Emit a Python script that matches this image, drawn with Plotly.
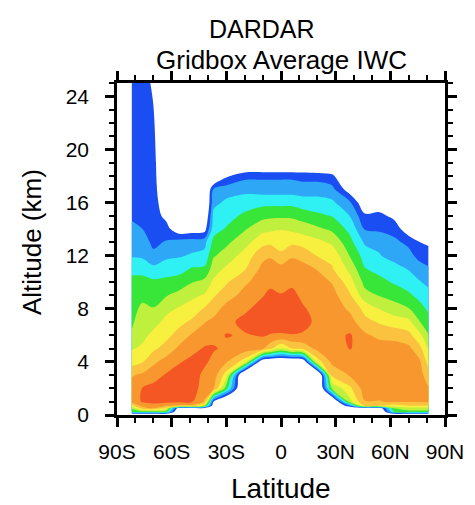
import numpy as np
import plotly.graph_objects as go

# Zonal-mean cross-section of gridbox-average ice water content.
# Each profile below holds the shaded IWC class at the altitudes listed
# (bottom to top). Class 1..9 = lowest..highest shaded IWC; <= 0 means no ice.

latitude = [-82, -76, -70, -63, -56, -49, -42, -37, -30, -20, -10, -6,
            0, 6, 12, 20, 28, 38, 46, 54, 62, 70, 76, 81]
altitude = [0, 0.25, 0.5, 0.7, 1, 2, 3, 4, 5, 6, 7, 8, 9, 10, 11, 12,
            13, 14, 15, 16, 17, 18, 19, 25]

iwc_82s = [-1.5, 4.0, 4.6, 6.2, 7.9, 7.9, 7.4, 6.1, 5.4, 4.6, 4.35, 4.1, 3.95, 3.8, 3.2, 2.4, 2.1, 1.8, 1.3, 1.0, 1.0, 1.0, 1.0, 1.0]
iwc_76s = [-1.5, 4.0, 7.0, 7.8, 8.6, 8.55, 7.7, 6.45, 5.7, 5.2, 5.0, 4.75, 4.2, 3.8, 3.2, 2.3, 2.0, 1.5, 1.1, 1.0, 1.0, 1.0, 1.0, 1.0]
iwc_70s = [-1.5, 4.0, 7.5, 8.1, 8.8, 8.8, 8.1, 7.3, 6.3, 5.8, 5.1, 4.55, 4.1, 3.7, 2.8, 1.75, 1.25, 1.0, 1.0, 1.0, 1.0, 1.0, 1.0, 0.3]
iwc_63s = [-1.5, 4.0, 6.0, 7.6, 8.8, 9.0, 8.6, 7.9, 6.9, 6.2, 5.8, 5.2, 4.45, 3.8, 3.0, 2.3, 1.6, 0.9, 0.2, -0.3, -0.8, -1.2, -1.5, -1.5]
iwc_56s = [-1.5, -1.5, -0.5, 7.2, 8.7, 9.1, 9.0, 8.4, 7.7, 6.9, 6.2, 5.6, 4.8, 4.0, 3.1, 2.4, 2.0, -0.3, -1.0, -1.5, -1.5, -1.5, -1.5, -1.5]
iwc_49s = [-1.5, -1.5, -0.5, 7.2, 8.6, 9.0, 9.1, 8.8, 8.15, 7.6, 6.7, 5.9, 5.3, 4.45, 3.6, 2.6, 2.1, -0.2, -1.0, -1.5, -1.5, -1.5, -1.5, -1.5]
iwc_42s = [-1.5, -1.5, -0.5, 5.0, 7.4, 8.0, 8.2, 8.7, 8.6, 8.0, 7.45, 6.6, 5.6, 4.8, 3.7, 2.8, 2.2, 0.0, -1.0, -1.5, -1.5, -1.5, -1.5, -1.5]
iwc_37s = [-1.5, -1.5, -1.0, -0.5, 0.5, 7.6, 8.0, 8.2, 8.6, 8.2, 7.8, 7.0, 6.4, 5.7, 5.0, 4.4, 3.8, 3.1, 2.8, 2.2, 1.6, -1.5, -1.5, -1.5]
iwc_30s = [-2.0, -2.0, -2.0, -2.0, -2.0, 3.9, 6.0, 7.6, 8.3, 8.55, 8.2, 7.9, 7.0, 6.4, 5.7, 4.9, 4.3, 3.6, 3.1, 2.7, 2.0, 0.3, -1.5, -1.5]
iwc_20s = [-2.0, -2.0, -2.0, -2.0, -2.0, -2.0, -2.0, 6.0, 8.0, 8.4, 8.8, 8.3, 7.9, 7.3, 6.4, 5.9, 5.1, 4.4, 3.7, 3.0, 2.2, 1.2, -1.5, -1.5]
iwc_10s = [-2.0, -2.0, -2.0, -2.0, -2.0, -2.0, -2.0, -1.0, 7.6, 8.6, 9.0, 8.9, 8.45, 8.1, 7.8, 7.2, 6.2, 5.2, 4.2, 3.2, 2.0, 1.3, -1.5, -1.5]
iwc_06s = [-2.0, -2.0, -2.0, -2.0, -2.0, -2.0, -2.0, -1.5, 6.8, 8.45, 9.0, 9.0, 8.7, 8.3, 7.9, 7.4, 6.3, 5.3, 4.3, 3.2, 2.0, 1.3, -1.5, -1.5]
iwc_eq = [-2.0, -2.0, -2.0, -2.0, -2.0, -2.0, -2.0, -1.5, 5.45, 8.4, 9.0, 9.0, 8.55, 8.2, 7.9, 6.7, 6.1, 5.45, 4.3, 3.2, 2.0, 1.3, -1.5, -1.5]
iwc_06n = [-2.0, -2.0, -2.0, -2.0, -2.0, -2.0, -2.0, -1.5, 6.5, 8.45, 9.0, 9.0, 8.75, 8.3, 7.9, 7.4, 6.3, 5.3, 4.3, 3.2, 2.0, 1.3, -1.5, -1.5]
iwc_12n = [-2.0, -2.0, -2.0, -2.0, -2.0, -2.0, -2.0, -1.0, 6.8, 8.4, 8.8, 8.6, 8.3, 8.1, 7.8, 7.2, 6.1, 5.1, 4.0, 3.0, 1.9, 1.2, -1.5, -1.5]
iwc_20n = [-2.0, -2.0, -2.0, -2.0, -2.0, -2.0, -2.0, 6.0, 7.8, 8.2, 8.3, 8.2, 8.1, 7.9, 7.45, 6.45, 5.8, 4.7, 3.7, 2.9, 2.0, 1.1, -1.5, -1.5]
iwc_28n = [-2.0, -2.0, -2.0, -2.0, -2.0, 4.6, 6.8, 7.7, 8.0, 8.2, 8.2, 8.1, 7.9, 7.45, 6.6, 6.2, 5.3, 4.3, 3.45, 2.7, 1.8, 0.8, -1.5, -1.5]
iwc_38n = [-1.5, -1.5, -1.0, 1.5, 5.2, 6.3, 7.6, 8.0, 8.55, 8.6, 7.9, 7.3, 6.6, 5.9, 5.2, 4.4, 3.8, 3.2, 2.45, 1.6, -0.2, -1.5, -1.5, -1.5]
iwc_46n = [-1.5, -1.5, -0.5, 6.5, 7.45, 8.0, 8.2, 8.1, 8.0, 7.7, 6.8, 6.2, 4.9, 4.2, 3.55, 3.1, 2.35, 1.45, 0.7, -0.5, -1.5, -1.5, -1.5, -1.5]
iwc_54n = [-1.5, -1.5, -0.5, 6.5, 7.45, 8.0, 8.2, 8.2, 8.1, 7.2, 6.4, 5.45, 4.45, 3.8, 3.2, 2.55, 2.3, 1.3, 0.8, -0.3, -1.5, -1.5, -1.5, -1.5]
iwc_62n = [-1.5, 3.5, 4.5, 6.0, 7.6, 8.0, 8.1, 8.1, 7.9, 7.2, 6.0, 5.0, 4.1, 3.4, 2.8, 2.2, 1.7, 1.2, 0.2, -1.5, -1.5, -1.5, -1.5, -1.5]
iwc_70n = [-1.5, 4.2, 5.0, 6.5, 7.6, 7.9, 8.0, 8.0, 7.75, 6.8, 5.8, 4.55, 3.7, 3.0, 2.45, 1.8, 1.3, -0.3, -1.5, -1.5, -1.5, -1.5, -1.5, -1.5]
iwc_76n = [-1.5, 4.2, 5.0, 6.5, 7.6, 7.9, 8.0, 7.7, 6.8, 5.8, 4.55, 3.9, 3.2, 2.6, 1.9, 1.2, 0.55, -1.5, -1.5, -1.5, -1.5, -1.5, -1.5, -1.5]
iwc_81n = [-1.5, 4.2, 5.0, 6.5, 7.65, 7.55, 6.8, 6.1, 5.45, 4.55, 3.9, 3.3, 2.9, 2.2, 1.55, 1.3, 0.2, -1.5, -1.5, -1.5, -1.5, -1.5, -1.5, -1.5]

profiles = [iwc_82s, iwc_76s, iwc_70s, iwc_63s, iwc_56s, iwc_49s, iwc_42s,
            iwc_37s, iwc_30s, iwc_20s, iwc_10s, iwc_06s, iwc_eq, iwc_06n,
            iwc_12n, iwc_20n, iwc_28n, iwc_38n, iwc_46n, iwc_54n, iwc_62n,
            iwc_70n, iwc_76n, iwc_81n]

lat_ticks = [-90, -60, -30, 0, 30, 60, 90]
lat_labels = ["90S", "60S", "30S", "0", "30N", "60N", "90N"]
alt_ticks = [0, 4, 8, 12, 16, 20, 24]

# class 0 (white) then the nine shaded classes
band_colors = ["#ffffff", "#1a4df2", "#2fa7f7", "#2ff0f2", "#38e63a",
               "#c0f03e", "#f7f03e", "#fac23e", "#f7972e", "#f45624"]

FONT = "Liberation Sans, Arial, Helvetica, sans-serif"

z = np.array(profiles).T  # rows = altitude, columns = latitude
n = len(band_colors)
colorscale = [[i / (n - 1), c] for i, c in enumerate(band_colors)]

fig = go.Figure(go.Contour(
    x=latitude, y=altitude, z=z,
    autocontour=False,
    contours=dict(start=0.5, end=n - 1.5, size=1,
                  coloring="fill", showlines=False),
    colorscale=colorscale, showscale=False,
    line=dict(width=0),
    hoverinfo="skip",
))

axis_style = dict(
    showline=True, linecolor="black", linewidth=2.5, mirror="ticks",
    ticks="outside", ticklen=9, tickwidth=2.5, tickcolor="black",
    tickfont=dict(family=FONT, size=21, color="black"),
    showgrid=False, zeroline=False, fixedrange=True,
)

fig.update_xaxes(range=[-90, 90], tickmode="array", tickvals=lat_ticks,
                 ticktext=lat_labels, ticklabelstandoff=7,
                 minor=dict(tickmode="linear", tick0=-90, dtick=10,
                            ticks="outside", ticklen=5, tickwidth=2,
                            tickcolor="black"),
                 **axis_style)
fig.update_yaxes(range=[0, 25], tickmode="array", tickvals=alt_ticks,
                 ticklabelstandoff=12,
                 minor=dict(tickmode="linear", tick0=0, dtick=1,
                            ticks="outside", ticklen=5, tickwidth=2,
                            tickcolor="black"),
                 **axis_style)

fig.update_layout(
    width=475, height=505,
    margin=dict(l=117, r=30, t=83, b=90),
    paper_bgcolor="white", plot_bgcolor="white",
    showlegend=False,
    annotations=[
        dict(text="DARDAR", x=0.442, y=1.163, xref="paper", yref="paper",
             showarrow=False, xanchor="center", yanchor="middle",
             font=dict(family=FONT, size=25, color="black")),
        dict(text="Gridbox Average IWC", x=0.5, y=1.069, xref="paper",
             yref="paper", showarrow=False, xanchor="center",
             yanchor="middle", font=dict(family=FONT, size=26, color="black")),
        dict(text="Latitude", x=0.5, y=-0.22, xref="paper", yref="paper",
             showarrow=False, xanchor="center", yanchor="middle",
             font=dict(family=FONT, size=28, color="black")),
        dict(text="Altitude (km)", x=-0.259, y=0.521, xref="paper",
             yref="paper", showarrow=False, textangle=-90,
             xanchor="center", yanchor="middle",
             font=dict(family=FONT, size=26, color="black")),
    ],
)

fig.write_html("out.html")
